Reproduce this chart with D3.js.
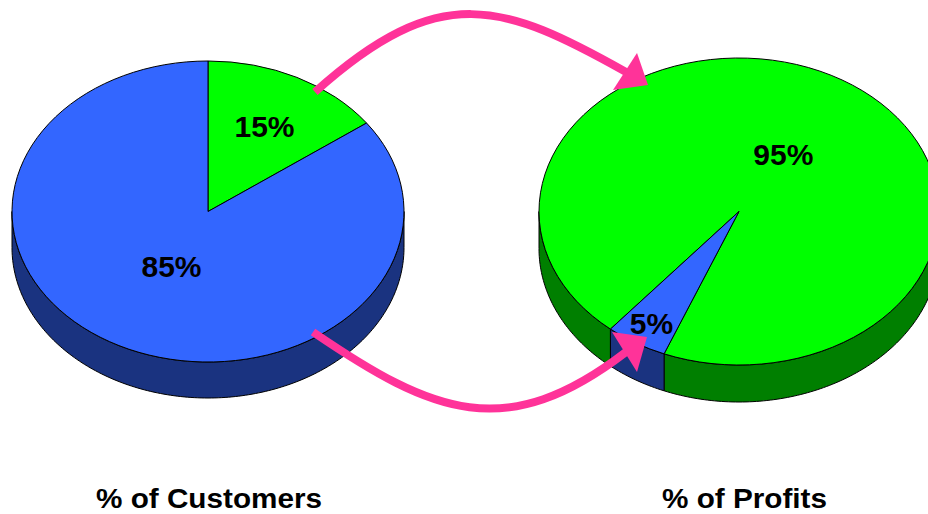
<!DOCTYPE html>
<html>
<head>
<meta charset="utf-8">
<script src="https://cdn.jsdelivr.net/npm/d3@7"></script>
<style>
  html, body { margin: 0; padding: 0; background: #fff; }
  svg { display: block; }
</style>
</head>
<body>
<svg id="chart" width="928" height="514"></svg>
<script>
// ---- data ----
const pieTitles = ["% of Customers", "% of Profits"];
const sliceNames = ["Profitable", "Unprofitable"];
const customerShares = [15, 85];
const profitShares = [95, 5];

// ---- layout / style ----
const W = 928, H = 514;
const sliceColors = { top: ["#00ff00", "#3366ff"], side: ["#007f00", "#1a3380"] };
const pies = [
  { values: customerShares, title: pieTitles[0], cx: 208, cy: 211.5, rx: 196, ry: 150.5, depth: 36,
    start: 0, labelR: [0.635, 0.41], titleX: 209 },
  { values: profitShares, title: pieTitles[1], cx: 739, cy: 211.5, rx: 200, ry: 153.5, depth: 37,
    start: 220, labelR: [0.43, 0.85], titleX: 744.5 }
];
const pink = "#ff3399";
// cubic bezier control points for connector arrows
const topArrow = [[315, 92], [440, -20], [503, 3], [626, 72]];
const botArrow = [[313, 332], [433, 414], [506, 444], [626, 352]];
const topHead = [[637, 53], [613, 90], [648, 85]];
const botHead = [[612, 332], [647, 337], [637, 372]];

const svg = d3.select("#chart");
const deg = Math.PI / 180;

function ellPt(p, a, dy = 0) {
  return [p.cx + p.rx * Math.sin(a), p.cy - p.ry * Math.cos(a) + dy];
}

function sidePath(p, b0, b1) {
  const n = Math.max(2, Math.ceil((b1 - b0) / (1 * deg)));
  const pts = [];
  for (let i = 0; i <= n; i++) pts.push(ellPt(p, b0 + (b1 - b0) * i / n));
  for (let i = n; i >= 0; i--) pts.push(ellPt(p, b0 + (b1 - b0) * i / n, p.depth));
  return "M" + pts.map(q => q[0].toFixed(2) + "," + q[1].toFixed(2)).join("L") + "Z";
}

pies.forEach(p => {
  const s = p.start * deg;
  const arcs = d3.pie().sort(null).value(d => d).startAngle(s).endAngle(s + 2 * Math.PI)(p.values);
  const g = svg.append("g");

  // side walls (front half: 90deg .. 270deg)
  arcs.forEach((a, i) => {
    for (let k = -1; k <= 2; k++) {
      const lo = Math.max(a.startAngle, Math.PI / 2 + 2 * Math.PI * k);
      const hi = Math.min(a.endAngle, 3 * Math.PI / 2 + 2 * Math.PI * k);
      if (hi > lo) {
        g.append("path").attr("d", sidePath(p, lo, hi))
          .attr("fill", sliceColors.side[i]).attr("stroke", "#000").attr("stroke-width", 1)
          .attr("stroke-linejoin", "round");
      }
    }
  });

  // top face
  const arcGen = d3.arc().innerRadius(0).outerRadius(p.rx);
  g.append("g")
    .attr("transform", `translate(${p.cx},${p.cy}) scale(1,${p.ry / p.rx})`)
    .selectAll("path").data(arcs).join("path")
    .attr("d", arcGen)
    .attr("fill", (d, i) => sliceColors.top[i])
    .attr("stroke", "#000").attr("stroke-width", 1)
    .attr("vector-effect", "non-scaling-stroke")
    .attr("stroke-linejoin", "round");

  p.arcs = arcs;
});

// arrows
[topArrow, botArrow].forEach(c => {
  const path = d3.path();
  path.moveTo(c[0][0], c[0][1]);
  path.bezierCurveTo(c[1][0], c[1][1], c[2][0], c[2][1], c[3][0], c[3][1]);
  svg.append("path").attr("d", path.toString()).attr("fill", "none")
    .attr("stroke", pink).attr("stroke-width", 8);
});
[topHead, botHead].forEach(tri => {
  svg.append("path").attr("d", "M" + tri.map(q => q.join(",")).join("L") + "Z").attr("fill", pink);
});

// labels
pies.forEach(p => {
  p.arcs.forEach((a, i) => {
    const mid = (a.startAngle + a.endAngle) / 2;
    const x = p.cx + p.rx * p.labelR[i] * Math.sin(mid);
    const y = p.cy - p.ry * p.labelR[i] * Math.cos(mid);
    svg.append("text")
      .attr("x", x).attr("y", y + 10.5)
      .attr("text-anchor", "middle")
      .attr("font-family", "'Liberation Sans', Arial, Helvetica, sans-serif")
      .attr("font-weight", "bold").attr("font-size", 30)
      .attr("fill", "#000")
      .text(a.data + "%");
  });
  svg.append("text")
    .attr("transform", `translate(${p.titleX},508) scale(1.1,1)`)
    .attr("text-anchor", "middle")
    .attr("font-family", "'Liberation Sans', Arial, Helvetica, sans-serif")
    .attr("font-weight", "bold").attr("font-size", 27)
    .attr("fill", "#000")
    .text(p.title);
});
</script>
</body>
</html>
